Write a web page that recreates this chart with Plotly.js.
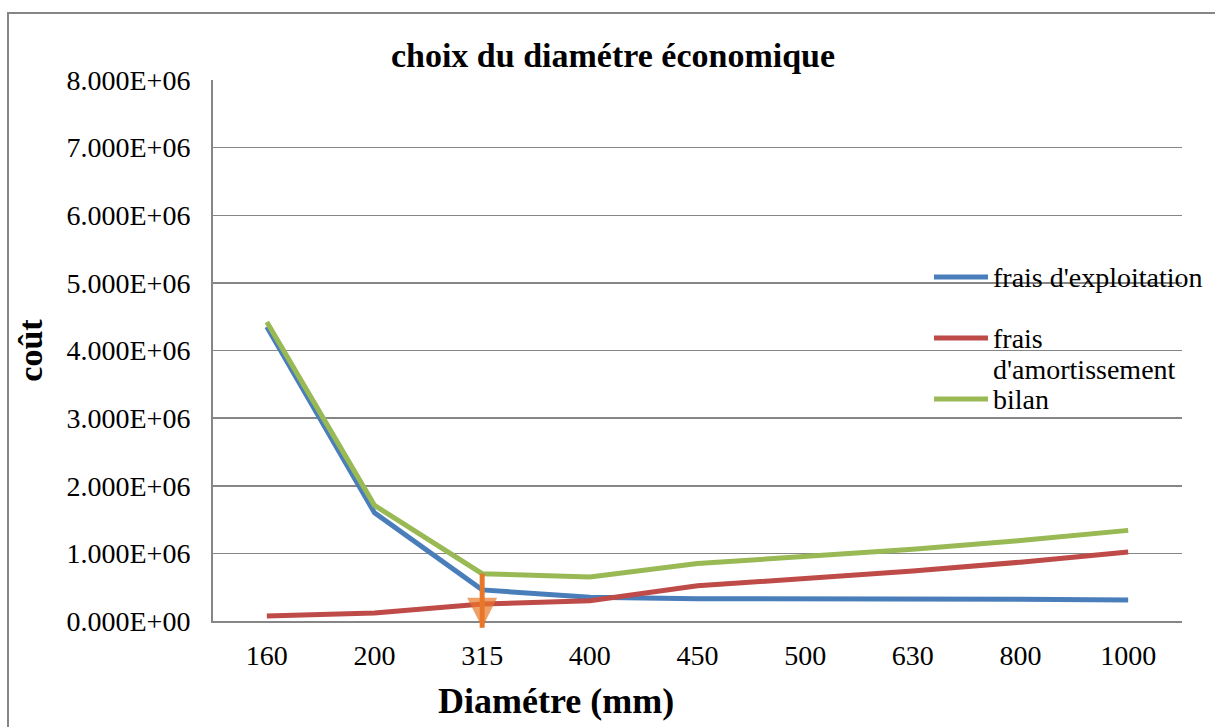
<!DOCTYPE html>
<html>
<head>
<meta charset="utf-8">
<script src="https://cdn.plot.ly/plotly-3.0.1.min.js"></script>
<style>html,body{margin:0;padding:0;background:#fff;}#chart{width:1215px;height:727px;}</style>
</head>
<body>
<div id="chart"></div>
<script>
const diameters = ['160','200','315','400','450','500','630','800','1000'];
const fraisExploitation = [4.35e6, 1.60e6, 0.46e6, 0.35e6, 0.33e6, 0.33e6, 0.32e6, 0.32e6, 0.31e6];
const fraisAmortissement = [0.075e6, 0.12e6, 0.25e6, 0.30e6, 0.52e6, 0.63e6, 0.74e6, 0.87e6, 1.02e6];
const bilan = [4.42e6, 1.71e6, 0.70e6, 0.65e6, 0.85e6, 0.96e6, 1.06e6, 1.19e6, 1.34e6];
const yTickVals = [0, 1e6, 2e6, 3e6, 4e6, 5e6, 6e6, 7e6, 8e6];
const yTickText = ['0.000E+00','1.000E+06','2.000E+06','3.000E+06','4.000E+06','5.000E+06','6.000E+06','7.000E+06','8.000E+06'];
const seriesNames = ["frais d'exploitation", "frais d'amortissement", "bilan"];
const legendLines = [["frais d'exploitation"], ["frais", "d'amortissement"], ["bilan"]];
const seriesColors = ['#4A7EBB', '#BE4B48', '#98B954'];
const arrowX = ['315', '315'];
const arrowY = [0.70e6, -0.10e6];

const font = 'Liberation Serif, Times New Roman, serif';
const W = 1215, H = 727;
const L = 213, R = 33, T = 80, B = 60;      // outer subplot box
const axisBottomPx = 621;                    // pixel row of y = 0
const pw = W - L - R, ph = H - T - B;
const px = v => (v - L) / pw;
const py = v => (H - B - v) / ph;
const yMax = 8e6;
const yDomainLow = py(axisBottomPx);
// companion axis with identical scale that extends below 0 so the arrow tip can go under the axis
const y2Low = -yMax * yDomainLow / (1 - yDomainLow);

const series = [fraisExploitation, fraisAmortissement, bilan];
const traces = series.map((ys, i) => ({
  x: diameters, y: ys, name: seriesNames[i], type: 'scatter', mode: 'lines',
  line: {color: seriesColors[i], width: 5}
}));
traces.push({
  x: arrowX, y: arrowY, yaxis: 'y2', type: 'scatter', mode: 'lines+markers', showlegend: false,
  line: {color: '#E8772A', width: 5},
  marker: {symbol: ['line-ns', 'arrow-down'], size: [1, 30], color: '#E8772A',
           line: {color: '#E8772A', width: 0}}
});

// manual legend (line sample + text)
const legendY = [277, 338, 399];
const legendShapes = legendY.map((yy, i) => ({
  type: 'line', xref: 'paper', yref: 'paper', x0: px(934), x1: px(988), y0: py(yy), y1: py(yy),
  line: {color: seriesColors[i], width: 5}
}));
const legendAnn = [];
legendLines.forEach((lines, i) => {
  lines.forEach((t, j) => {
    legendAnn.push({text: t, xref: 'paper', yref: 'paper', x: px(991), y: py(legendY[i] + j * 31),
      xanchor: 'left', yanchor: 'middle', showarrow: false,
      font: {family: font, size: 28, color: '#000'}});
  });
});

const layout = {
  width: W, height: H,
  margin: {l: L, r: R, t: T, b: B},
  paper_bgcolor: '#fff', plot_bgcolor: 'rgba(0,0,0,0)',
  font: {family: font, color: '#000', size: 28},
  title: {text: '<b>choix du diamétre économique</b>', font: {family: font, size: 34, color: '#000'},
          x: 613 / W, xanchor: 'center', xref: 'container', y: 1 - 55 / H, yanchor: 'middle', yref: 'container'},
  showlegend: false,
  xaxis: {type: 'category', range: [-0.5, 8.5], anchor: 'y', showgrid: false, showline: true, linecolor: '#868686',
          linewidth: 2, ticks: '', tickfont: {family: font, size: 28, color: '#000'},
          ticklabelstandoff: 8, zeroline: false, fixedrange: true, automargin: false},
  yaxis: {domain: [yDomainLow, 1], range: [0, yMax], tickvals: yTickVals, ticktext: yTickText, showgrid: true,
          gridcolor: '#868686', gridwidth: 1.5, showline: true, linecolor: '#868686', linewidth: 2,
          ticks: '', tickfont: {family: font, size: 28, color: '#000'}, ticklabelstandoff: 15,
          zeroline: false, fixedrange: true, automargin: false,
          title: {text: '<b>coût</b>', font: {family: font, size: 34, color: '#000'}, standoff: 14}},
  yaxis2: {domain: [0, 1], range: [y2Low, yMax], anchor: 'x', visible: false, fixedrange: true,
           showgrid: false, zeroline: false},
  shapes: [
    {type: 'rect', xref: 'paper', yref: 'paper', x0: px(8), x1: px(1230), y0: py(13), y1: py(740),
     line: {color: '#868686', width: 2}, fillcolor: 'rgba(0,0,0,0)', layer: 'below'}
  ].concat(legendShapes),
  annotations: [
    {text: '<b>Diamétre (mm)</b>', xref: 'paper', yref: 'paper', x: px(556), y: py(701),
     xanchor: 'center', yanchor: 'middle', showarrow: false, font: {family: font, size: 36, color: '#000'}}
  ].concat(legendAnn)
};

Plotly.newPlot('chart', traces, layout, {displayModeBar: false, staticPlot: true});
</script>
</body>
</html>
